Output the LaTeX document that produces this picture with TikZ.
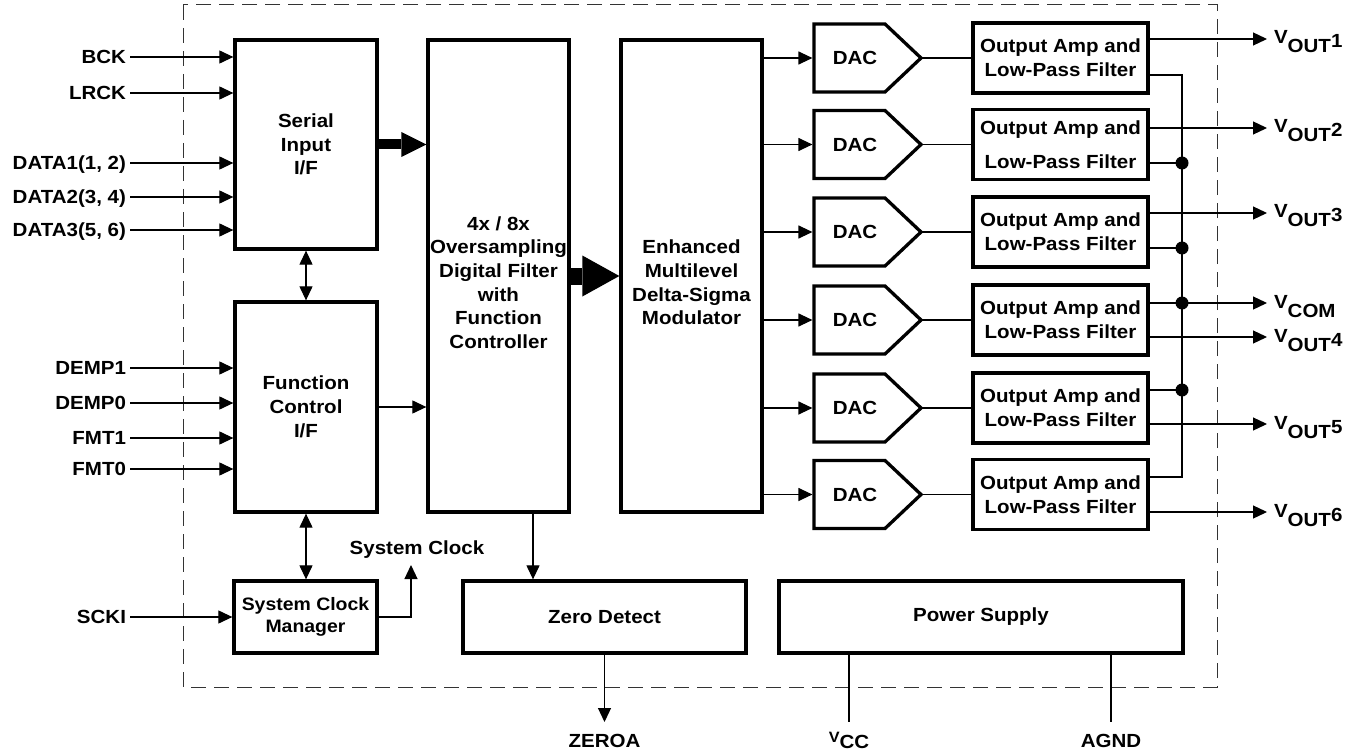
\documentclass[tikz,border=0pt]{standalone}
\usepackage{fontspec}
\setmainfont{Liberation Sans}[FakeStretch=1.08]
\usetikzlibrary{arrows.meta}
\newcommand\Vsub[2]{V\raisebox{-9pt}{#1}\raisebox{-4pt}{#2}}
\begin{document}
\begin{tikzpicture}[x=1pt,y=-1pt,
  every node/.style={font=\bfseries\fontsize{19}{23.7}\selectfont, inner sep=0pt, outer sep=0pt},
  blk/.style={draw, line width=3.3pt, align=center, outer sep=1.65pt},
  ln/.style={line width=1.2pt},
  a/.style={ln, -{Triangle[length=14pt,width=13pt]}},
  aa/.style={ln, {Triangle[length=14pt,width=13pt]}-{Triangle[length=14pt,width=13pt]}},
  lbl/.style={text height=13.6pt, text depth=0pt},
  vlbl/.style={anchor=base west, font=\bfseries\fontsize{19}{20}\selectfont},
]
\useasboundingbox (0,0) rectangle (1359,754);

% chip border
\draw[line width=1pt, black!80, dash pattern=on 15pt off 8pt] (183,5) rectangle (1217,687);

% main blocks
\node[blk, minimum width=142pt, minimum height=209pt] (serial) at (306,144.5) {Serial\\Input\\I/F};
\node[blk, minimum width=142pt, minimum height=210pt] (func) at (306,407) {Function\\Control\\I/F};
\node[blk, minimum width=143pt, minimum height=72pt, font=\bfseries\fontsize{18}{22}\selectfont] (clk) at (305.5,617) {System Clock\\Manager};
\node[blk, minimum width=141pt, minimum height=472pt,
  label={[align=center, yshift=-6.5pt]center:{4x / 8x\\Oversampling\\Digital Filter\\with\\Function\\Controller}}] (filter) at (498.5,276) {};
\node[blk, minimum width=141pt, minimum height=472pt,
  label={[align=center, yshift=-6.5pt]center:{Enhanced\\Multilevel\\Delta-Sigma\\Modulator}}] (mod) at (691.5,276) {};
\node[blk, minimum width=283pt, minimum height=72pt] (zero) at (604.5,617) {Zero Detect};
\node[blk, minimum width=404pt, minimum height=72pt] (power) at (981,617) {Power Supply};

% output amplifiers
\foreach \i/\c in {1/58,3/232,4/320,5/408,6/494.5}
  \node[blk, minimum width=175pt, minimum height=70pt] (amp\i) at (1060.5,\c) {Output Amp and\\Low-Pass Filter};
\node[blk, minimum width=175pt, minimum height=70pt] (amp2) at (1060.5,144.5) {Output Amp and\\[10pt]Low-Pass Filter};

% DACs
\foreach \i/\c in {1/58,2/144.5,3/232,4/320,5/408,6/494.5} {
  \coordinate (din\i) at (814,\c);
  \coordinate (dout\i) at (921,\c);
  \draw[line width=3.3pt, line join=miter] (814,\c-34) -- (885,\c-34) -- (dout\i) -- (885,\c+34) -- (814,\c+34) -- cycle;
  \node (dac\i) at (855,\c) {DAC};
  \draw[a] (mod.east |- din\i) -- ([xshift=-1.6pt]din\i);
  \draw[ln] ([xshift=1pt]dout\i) -- (amp\i.west);
}

% left inputs
\foreach \n/\t/\y/\b in {bck/BCK/57/serial, lrck/LRCK/93/serial, da/{DATA1(1, 2)}/163/serial,
    db/{DATA2(3, 4)}/197/serial, dc/{DATA3(5, 6)}/230/serial,
    dm/DEMP1/368/func, dn/DEMP0/403/func, fa/FMT1/438/func, fb/FMT0/469/func, scki/SCKI/617/clk} {
  \node[lbl, anchor=east] (\n) at (126,\y) {\t};
  \draw[a] ([xshift=4pt]\n.east) -- (\n.east -| \b.west);
}

% internal connections
\draw[line width=10pt, -{Triangle[length=25pt,width=25pt,line width=0pt]}] (serial.east) -- (serial.east -| filter.west);
\draw[line width=17pt, -{Triangle[length=37pt,width=41pt,line width=0pt]}] (filter.east) -- (mod.west);
\draw[aa] (serial.south) -- (func.north);
\draw[aa] (func.south) -- (func.south |- clk.north);
\draw[a] (func.east) -- (func.east -| filter.west);
\draw[a] ([xshift=34.5pt]filter.south) -- ([xshift=34.5pt]filter.south |- zero.north);
\coordinate (sct) at (411,565);
\draw[a] (clk.east) -| (sct);
\node (sclbl) at (417,550) {System Clock};

% bus / VCOM
\foreach \i/\y in {1/75,2/163,3/248,4/303,5/390,6/477}
  \coordinate (b\i) at (1182,\y);
\draw[ln] (amp1.east |- b1) -- (b1) -- (b6) -- (amp6.east |- b6);
\foreach \i in {2,3,4,5} {
  \draw[ln] (amp\i.east |- b\i) -- (b\i);
  \fill (b\i) circle[radius=6.5pt];
}
\coordinate (vcomt) at (1267,303);
\draw[a] (b4) -- (vcomt);
\node[vlbl] (vcom) at (1274,308) {V\raisebox{-9pt}{COM}};

% outputs
\foreach \i/\y in {1/39,2/128,3/213,4/337,5/424,6/512} {
  \coordinate (vt\i) at (1267,\y);
  \draw[a] (amp\i.east |- vt\i) -- (vt\i);
  \node[vlbl] (vl\i) at (1274,\y+5) {\Vsub{OUT}{\i}};
}

% bottom pins
\coordinate (zt) at (604.5,722);
\draw[a] (zero.south) -- (zt);
\node[lbl] (zeroa) at (604.5,741) {ZEROA};
\coordinate (vccend) at (849,722);
\draw[ln] (power.south -| vccend) -- (vccend);
\node[anchor=base] (vcc) at (849,742) {{\fontsize{15}{15}\selectfont V}\raisebox{-6pt}{CC}};
\coordinate (agndend) at (1111,722);
\draw[ln] (power.south -| agndend) -- (agndend);
\node[lbl] (agnd) at (1111,741) {AGND};
\end{tikzpicture}
\end{document}
